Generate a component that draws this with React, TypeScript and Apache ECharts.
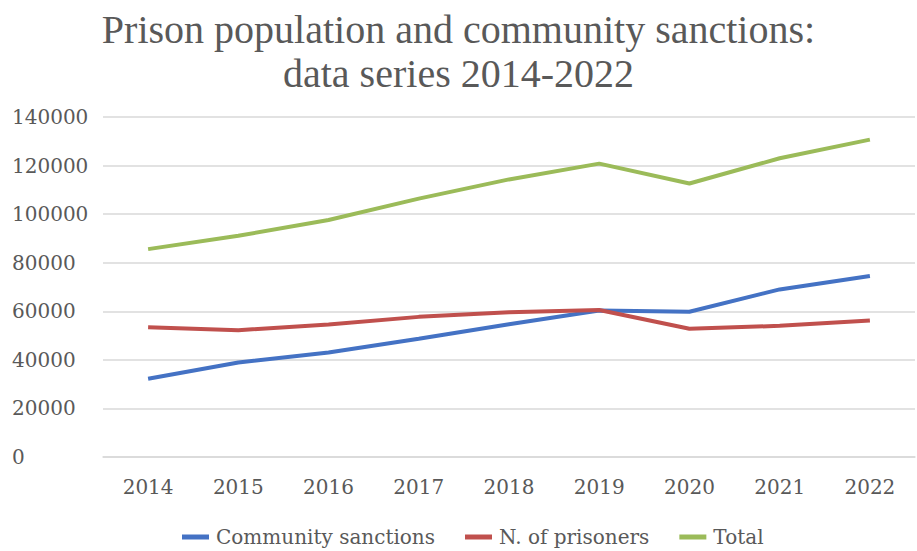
import React, { useEffect, useRef } from "react";
import * as echarts from "echarts";

const years = ["2014", "2015", "2016", "2017", "2018", "2019", "2020", "2021", "2022"];
const communitySanctions = [32200, 38900, 43000, 48700, 54700, 60300, 59800, 69000, 74500];
const prisoners = [53400, 52200, 54600, 57700, 59600, 60500, 52800, 54000, 56200];
const total = [85600, 91100, 97600, 106400, 114300, 120800, 112600, 123000, 130700];

const TXT = "#595959";

export default function App() {
  const ref = useRef<HTMLDivElement>(null);
  useEffect(() => {
    if (!ref.current) return;
    const chart = echarts.init(ref.current, undefined, { renderer: "svg" });
    const lineSeries = (name: string, data: number[], color: string) => ({
      name,
      type: "line",
      data,
      symbol: "none",
      lineStyle: { width: 4, color },
      itemStyle: { color },
    });
    chart.setOption({
      animation: false,
      backgroundColor: "#ffffff",
      title: {
        text: "Prison population and community sanctions:\ndata series 2014-2022",
        left: "center",
        top: 2,
        textStyle: {
          fontFamily: "Liberation Serif",
          fontSize: 40,
          fontWeight: "normal",
          color: TXT,
          lineHeight: 44,
        },
      },
      legend: {
        bottom: -1,
        left: 177,
        icon: "rect",
        itemWidth: 27,
        itemHeight: 5,
        itemGap: 30,
        textStyle: {
          fontFamily: "DejaVu Serif",
          fontSize: 20,
          color: TXT,
          padding: [0, 0, 0, 2],
        },
        data: ["Community sanctions", "N. of prisoners", "Total"],
      },
      grid: { left: 103, right: 2, top: 117, bottom: 94, containLabel: false },
      xAxis: {
        type: "category",
        data: years,
        boundaryGap: true,
        axisLine: { lineStyle: { color: "#d9d9d9", width: 1.5 } },
        axisTick: { show: false },
        axisLabel: { fontFamily: "DejaVu Serif", fontSize: 20, color: TXT, margin: 20 },
      },
      yAxis: {
        type: "value",
        min: 0,
        max: 140000,
        interval: 20000,
        axisLine: { show: false },
        axisTick: { show: false },
        splitLine: { lineStyle: { color: "#d9d9d9", width: 1.5 } },
        axisLabel: {
          fontFamily: "DejaVu Serif",
          fontSize: 20,
          color: TXT,
          align: "left",
          margin: 91,
          formatter: (v: number) => String(v),
        },
      },
      series: [
        lineSeries("Community sanctions", communitySanctions, "#4472C4"),
        lineSeries("N. of prisoners", prisoners, "#C0504D"),
        lineSeries("Total", total, "#9BBB59"),
      ],
    });
    return () => chart.dispose();
  }, []);
  return (
    <div
      ref={ref}
      style={{ width: 917, height: 551, position: "fixed", left: 0, top: 0, background: "#fff" }}
    />
  );
}
